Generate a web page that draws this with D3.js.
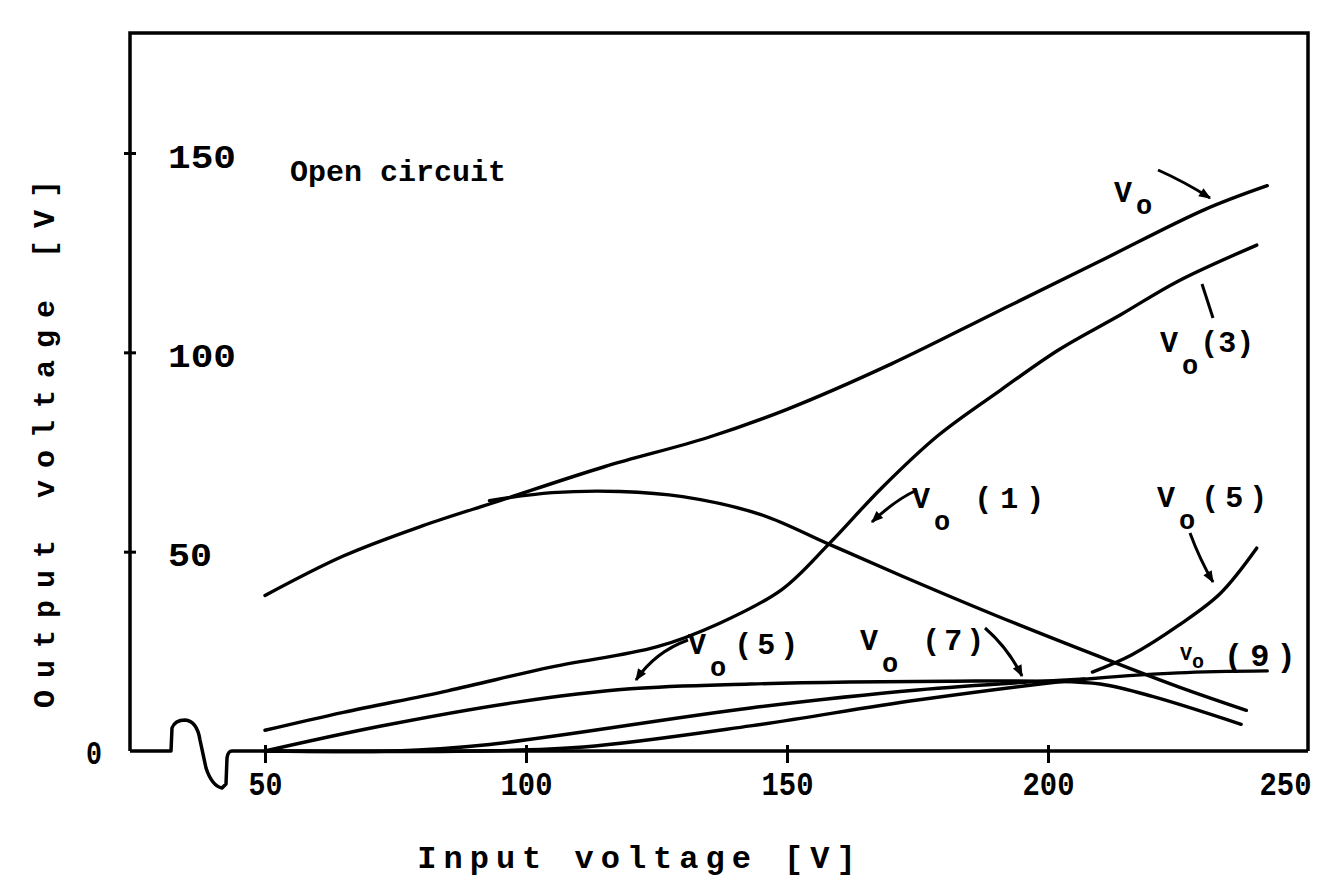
<!DOCTYPE html>
<html>
<head>
<meta charset="utf-8">
<script src="https://cdn.jsdelivr.net/npm/d3@7"></script>
<style>
  html, body { margin: 0; padding: 0; background: #fff; }
  svg { display: block; }
  text { font-family: "Liberation Mono", "DejaVu Sans Mono", monospace; font-weight: bold; fill: #000; }
</style>
</head>
<body>
<svg id="chart" width="1320" height="892"></svg>
<script>
// ---------------- DATA ----------------
const xTickValues = [50, 100, 150, 200, 250];
const yTickValues = [0, 50, 100, 150];
const xTitle = "Input voltage [V]";
const yTitle = "Output voltage [V]";
const note = "Open circuit";

// [input voltage V, output voltage V]
const vo   = [[50,39],[65,48.9],[80,56.4],[95,62.8],[115,71.3],[135,78.7],[150,85.7],[170,97.1],[190,110],[210,122.9],[230,135.8],[242,141.8]];
const vo1  = [[93,62.8],[105,64.8],[118,65.1],[130,63.8],[145,59.3],[158,51.9],[172,43.9],[190,34],[210,23.6],[225,16.1],[238,10.2]];
const vo3  = [[50,5.2],[65,9.7],[85,15.1],[105,21.1],[125,26.1],[137,32],[149,40.5],[158,51.9],[168,65.8],[179,79.2],[191,90.6],[202,100.6],[214,109.5],[225,117.9],[240,126.9]];
const vo5  = [[50,0],[72,6.2],[98,12.2],[120,15.6],[143,16.8],[162,17.3],[181,17.5],[200,17.5],[210,16.8],[220,13.7],[237,6.7]];
const vo5b = [[208.5,19.8],[216,24.1],[225,31.5],[233,39.5],[240,50.9]];
const vo7  = [[50,0],[75,0],[92,1.5],[143,10.8],[175,15.3],[207,18.1]];
const vo9  = [[50,0],[90,0],[111,1],[143,6.3],[175,12.8],[207,18],[225,19.6],[242,20.1]];
const seriesList = [vo, vo1, vo3, vo5, vo5b, vo7, vo9];

const labelTexts = [
  ["V","o",""],
  ["V","o","(3)"],
  ["V","o","(1)"],
  ["V","o","(5)"],
  ["V","o","(5)"],
  ["V","o","(7)"],
  ["V","o","(9)"]
];
</script>
<script>
(function () {
const svg = d3.select("#chart");
const x = d3.scaleLinear().domain([50, 250]).range([265, 1309]);
const y = d3.scaleLinear().domain([0, 150]).range([751, 153]);
const pL = 130, pR = 1308, pT = 33, base = y(0);
const ink = "#000";

svg.append("path")
  .attr("d", `M${pL},${base} L${pL},${pT} L${pR},${pT} L${pR},${base}`)
  .attr("fill", "none").attr("stroke", ink).attr("stroke-width", 3.5);

svg.append("path")
  .attr("d", `M${pL},${base} L171,${base} L172,728 Q175,720 185,720 Q197,721 200,740 L206,768 Q212,786 222,788 L226,784 L227,758 Q228,${base} 232,${base} L${pR},${base}`)
  .attr("fill", "none").attr("stroke", ink).attr("stroke-width", 3.5).attr("stroke-linejoin","round");

function styleText(sel, fs) {
  sel.attr("font-size", fs).attr("font-family", "Liberation Mono").attr("font-weight", "bold").attr("fill", ink);
}

const gx = svg.append("g").attr("transform", `translate(0,${base})`)
  .call(d3.axisBottom(x).tickValues(xTickValues).tickSize(10).tickPadding(20).tickFormat(d3.format("d")));
gx.select(".domain").remove();
gx.selectAll(".tick line").attr("y1", -6).attr("y2", 12).attr("stroke", ink).attr("stroke-width", 3);
gx.selectAll(".tick").filter(d => d === 250).select("line").remove();
gx.selectAll(".tick text").call(styleText, 34).attr("y", 44).attr("dy", null)
  .attr("textLength", 52).attr("lengthAdjust", "spacingAndGlyphs");
gx.selectAll(".tick").filter(d => d === 50).select("text").attr("textLength", 34);
gx.selectAll(".tick").filter(d => d === 250).select("text").attr("text-anchor", "end").attr("x", 2);

const gy = svg.append("g").attr("transform", `translate(${pL},0)`)
  .call(d3.axisRight(y).tickValues(yTickValues).tickSize(7).tickPadding(31).tickFormat(d3.format("d")));
gy.select(".domain").remove();
gy.selectAll(".tick line").attr("x1", -6).attr("x2", 6).attr("stroke", ink).attr("stroke-width", 3);
gy.selectAll(".tick").filter(d => d === 0).select("line").remove();
gy.selectAll(".tick text").call(styleText, 34).attr("dy", "0.42em")
  .attr("textLength", 68).attr("lengthAdjust", "spacingAndGlyphs");
gy.selectAll(".tick").filter(d => d === 50).select("text").attr("textLength", 44);
gy.selectAll(".tick").filter(d => d === 0).select("text").attr("x", -28).attr("dy", "0.36em").attr("text-anchor", "end").attr("textLength", 16);

svg.append("text").attr("x", 640).attr("y", 868).attr("text-anchor", "middle")
  .attr("font-size", 32).attr("letter-spacing", 7).text(xTitle);
svg.append("text").attr("transform", "translate(54,438) rotate(-90)").attr("text-anchor", "middle")
  .attr("font-size", 30).attr("letter-spacing", 12).text(yTitle);

svg.append("text").attr("x", 290).attr("y", 181).attr("font-size", 30).text(note);

const line = d3.line().x(d => x(d[0])).y(d => y(d[1])).curve(d3.curveCatmullRom.alpha(0.5));
svg.append("g").selectAll("path").data(seriesList).join("path")
  .attr("d", line).attr("fill", "none").attr("stroke", ink).attr("stroke-width", 3.4)
  .attr("stroke-linecap", "round");

// annotation layout: [x, y, subscript drop, suffix dx, suffix letter-spacing, size]
const labelPos = [
  [1114, 202, 12, 0, 0, 30],
  [1160, 352, 22, 2, 0, 30],
  [912, 508, 22, 24, 8, 30],
  [1157, 507, 22, 6, 6, 30],
  [688, 654, 22, 8, 5, 30],
  [860, 650, 22, 24, 4, 30],
  [1180, 666, 8, 20, 7, 32]
];
labelTexts.forEach((t, i) => {
  const [lx, ly, dsub, sdx, ls, fs] = labelPos[i];
  const txt = svg.append("text").attr("x", lx).attr("y", ly).attr("font-size", fs);
  const small = i === 6;
  txt.append("tspan").attr("font-size", small ? 20 : fs).attr("dy", small ? -6 : 0).text(t[0]);
  txt.append("tspan").attr("dy", dsub).attr("dx", small ? 0 : 4).attr("font-size", small ? 20 : fs * 0.9).text(t[1]);
  if (t[2]) txt.append("tspan").attr("dy", small ? -2 : -dsub).attr("dx", sdx).attr("letter-spacing", ls).text(t[2]);
});

const defs = svg.append("defs");
defs.append("marker").attr("id", "ah").attr("viewBox", "0 0 10 10").attr("refX", 9).attr("refY", 5)
  .attr("markerWidth", 5).attr("markerHeight", 4).attr("orient", "auto")
  .append("path").attr("d", "M0,1 L10,5 L0,9 Z").attr("fill", ink);
const leaders = [
  "M1158,170 Q1185,182 1210,198",
  "M1202,284 L1213,318",
  "M917,490 Q895,500 872,522",
  "M1190,533 Q1200,560 1213,582",
  "M688,640 Q655,652 636,680",
  "M985,628 Q1008,648 1022,676"
];
svg.append("g").selectAll("path").data(leaders).join("path")
  .attr("d", d => d).attr("fill", "none").attr("stroke", ink).attr("stroke-width", 3)
  .attr("marker-end", (d, i) => i === 1 ? null : "url(#ah)");
})();
</script>
</body>
</html>
